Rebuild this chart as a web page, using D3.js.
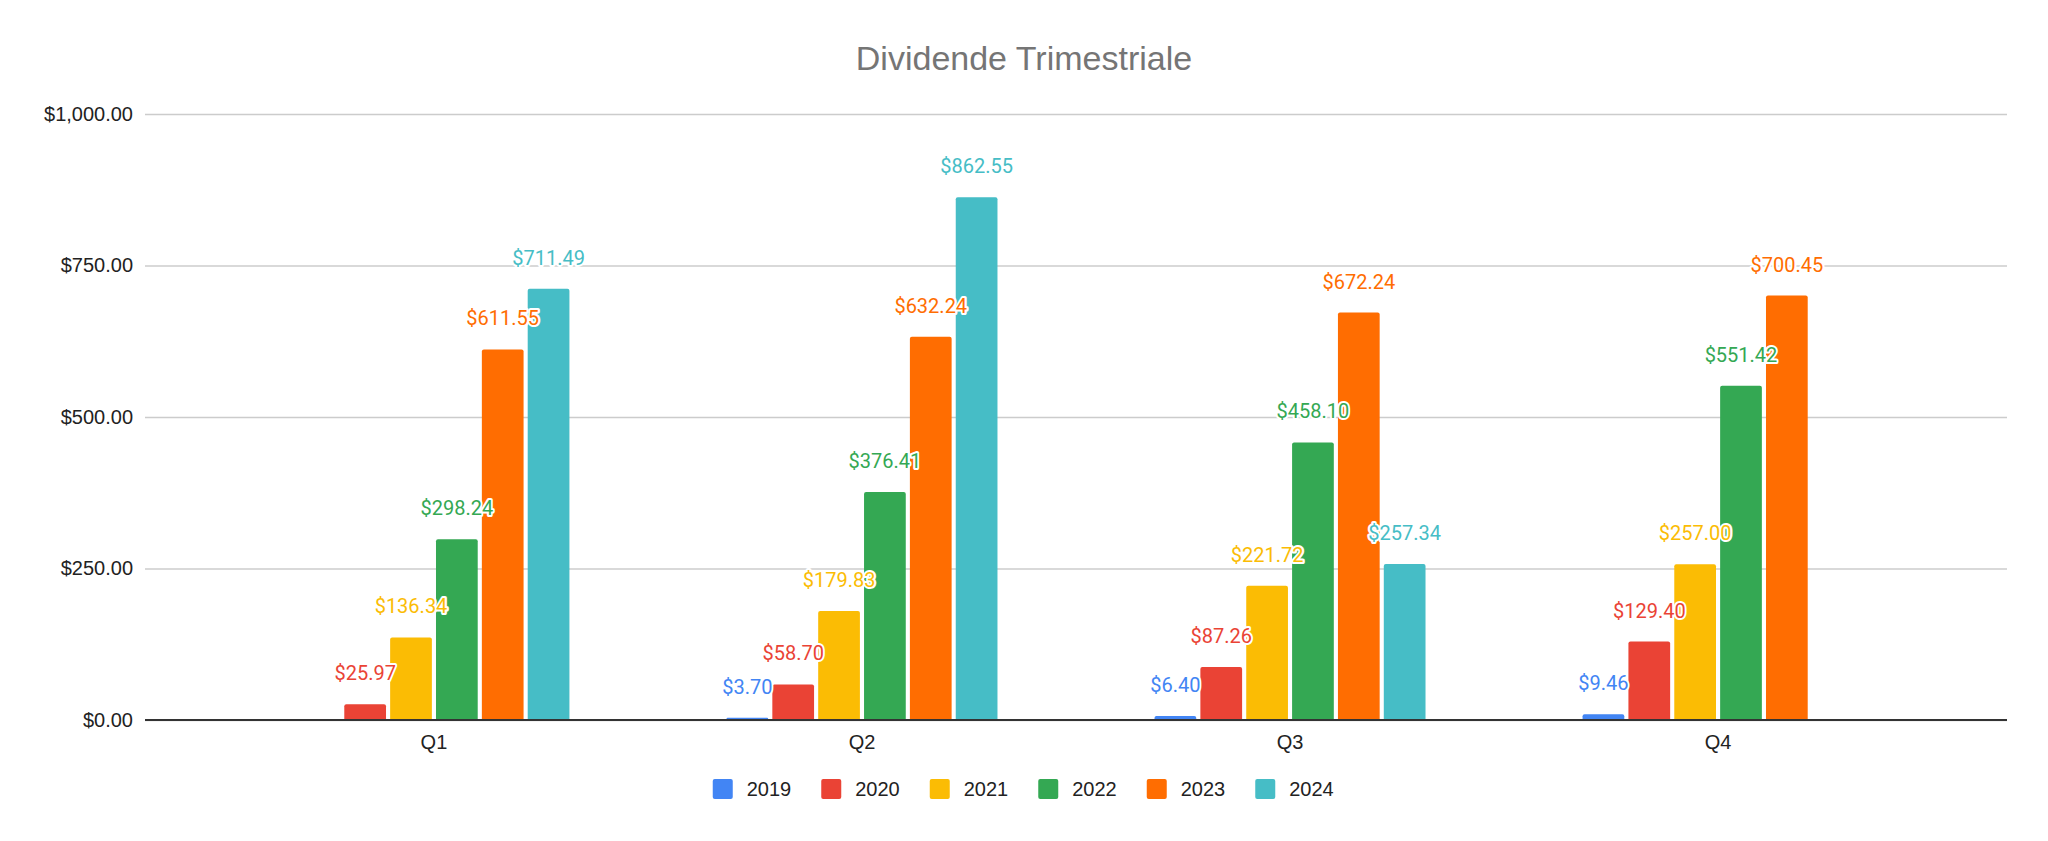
<!DOCTYPE html>
<html>
<head>
<meta charset="utf-8">
<script src="https://cdn.jsdelivr.net/npm/d3@7"></script>
<style>
  body { margin: 0; background: #fff; }
  svg { display: block; }
</style>
</head>
<body>
<script>
// Values, one array per year (null = no dividend).
const quarters = ["Q1", "Q2", "Q3", "Q4"];
const years = ["2019", "2020", "2021", "2022", "2023", "2024"];
const v2019 = [null, 3.70, 6.40, 9.46];
const v2020 = [25.97, 58.70, 87.26, 129.40];
const v2021 = [136.34, 179.83, 221.72, 257.00];
const v2022 = [298.24, 376.41, 458.10, 551.42];
const v2023 = [611.55, 632.24, 672.24, 700.45];
const v2024 = [711.49, 862.55, 257.34, null];
const yTicks = [0, 250, 500, 750, 1000];
const colors = ["#4285f4", "#ea4335", "#fbbc04", "#34a853", "#ff6d01", "#46bdc6"];

const series = [v2019, v2020, v2021, v2022, v2023, v2024];

const width = 2048, height = 841;
const plot = { left: 145, right: 2007, top: 114, bottom: 720 };

let svg = d3.select("body")
  .append("svg")
  .attr("width", width)
  .attr("height", height)
  .attr("xmlns", "http://www.w3.org/2000/svg");

let x0 = d3.scaleBand()
  .domain(quarters)
  .range([plot.left, plot.right])
  .paddingInner(0)
  .paddingOuter(0.175);

let x1 = d3.scaleBand()
  .domain(years)
  .range([-135.5, 135.5])
  .paddingInner(0.09);

let y = d3.scaleLinear()
  .domain([0, 1000])
  .range([plot.bottom, plot.top]);

const fmt = d3.format("$,.2f");

// Title
svg.append("text")
  .attr("x", width / 2)
  .attr("y", 70)
  .attr("text-anchor", "middle")
  .attr("font-family", "Liberation Sans, Arial, sans-serif")
  .attr("font-size", 34)
  .attr("fill", "#757575")
  .text("Dividende Trimestriale");

// Gridlines and y labels
let yAxis = svg.append("g")
  .attr("transform", `translate(${plot.left},0)`)
  .call(d3.axisLeft(y)
    .tickValues(yTicks)
    .tickFormat(fmt)
    .tickSize(-(plot.right - plot.left))
    .tickPadding(12));

yAxis.select(".domain").remove();
yAxis.selectAll(".tick line")
  .attr("stroke", "#cccccc")
  .attr("stroke-width", 1.5);
yAxis.selectAll(".tick text")
  .attr("font-family", "Liberation Sans, Arial, sans-serif")
  .attr("font-size", 20)
  .attr("fill", "#222");

// Bars, rounded on top only
function barPath(x, yTop, w, h) {
  let r = Math.min(2, h / 2, w / 2);
  return `M${x},${yTop + h}V${yTop + r}Q${x},${yTop} ${x + r},${yTop}` +
    `H${x + w - r}Q${x + w},${yTop} ${x + w},${yTop + r}V${yTop + h}Z`;
}

let cells = [];
series.forEach((vals, si) => {
  vals.forEach((v, qi) => {
    if (v != null) cells.push({ year: years[si], q: quarters[qi], v: v, c: colors[si] });
  });
});

let groups = svg.append("g").attr("class", "bars");

groups.selectAll("path")
  .data(cells)
  .enter()
  .append("path")
  .attr("fill", (d) => d.c)
  .attr("d", (d) => {
    let cx = x0(d.q) + x0.bandwidth() / 2;
    let bx = cx + x1(d.year);
    return barPath(bx, y(d.v), x1.bandwidth(), y(0) - y(d.v));
  });

// Baseline
svg.append("line")
  .attr("x1", plot.left)
  .attr("x2", plot.right)
  .attr("y1", y(0))
  .attr("y2", y(0))
  .attr("stroke", "#333")
  .attr("stroke-width", 2);

// Value labels with a white halo
svg.append("g")
  .selectAll("text")
  .data(cells)
  .enter()
  .append("text")
  .attr("x", (d) => x0(d.q) + x0.bandwidth() / 2 + x1(d.year) + x1.bandwidth() / 2)
  .attr("y", (d) => y(d.v) - 24)
  .attr("text-anchor", "middle")
  .attr("font-family", "Roboto, sans-serif")
  .attr("font-size", 20)
  .attr("fill", (d) => d.c)
  .attr("stroke", "#fff")
  .attr("stroke-width", 4)
  .attr("stroke-linejoin", "round")
  .attr("paint-order", "stroke")
  .text((d) => fmt(d.v));

// Category labels
let xAxis = svg.append("g")
  .attr("transform", `translate(0,${plot.bottom})`)
  .call(d3.axisBottom(x0).tickSize(0).tickPadding(15));

xAxis.select(".domain").remove();
xAxis.selectAll(".tick text")
  .attr("font-family", "Liberation Sans, Arial, sans-serif")
  .attr("font-size", 20)
  .attr("fill", "#222");

// Legend, centred under the plot
const itemStep = 108.5;
let legendWidth = itemStep * (years.length - 1) + 80;
let legend = svg.append("g")
  .attr("transform", `translate(${width / 2 - legendWidth / 2},779)`);

let item = legend.selectAll("g")
  .data(years)
  .enter()
  .append("g")
  .attr("transform", (d, i) => `translate(${i * itemStep},0)`);

item.append("rect")
  .attr("width", 20)
  .attr("height", 20)
  .attr("rx", 2)
  .attr("fill", (d, i) => colors[i]);

item.append("text")
  .attr("x", 34)
  .attr("y", 17)
  .attr("font-family", "Liberation Sans, Arial, sans-serif")
  .attr("font-size", 20)
  .attr("fill", "#222")
  .text((d) => d);
</script>
</body>
</html>
